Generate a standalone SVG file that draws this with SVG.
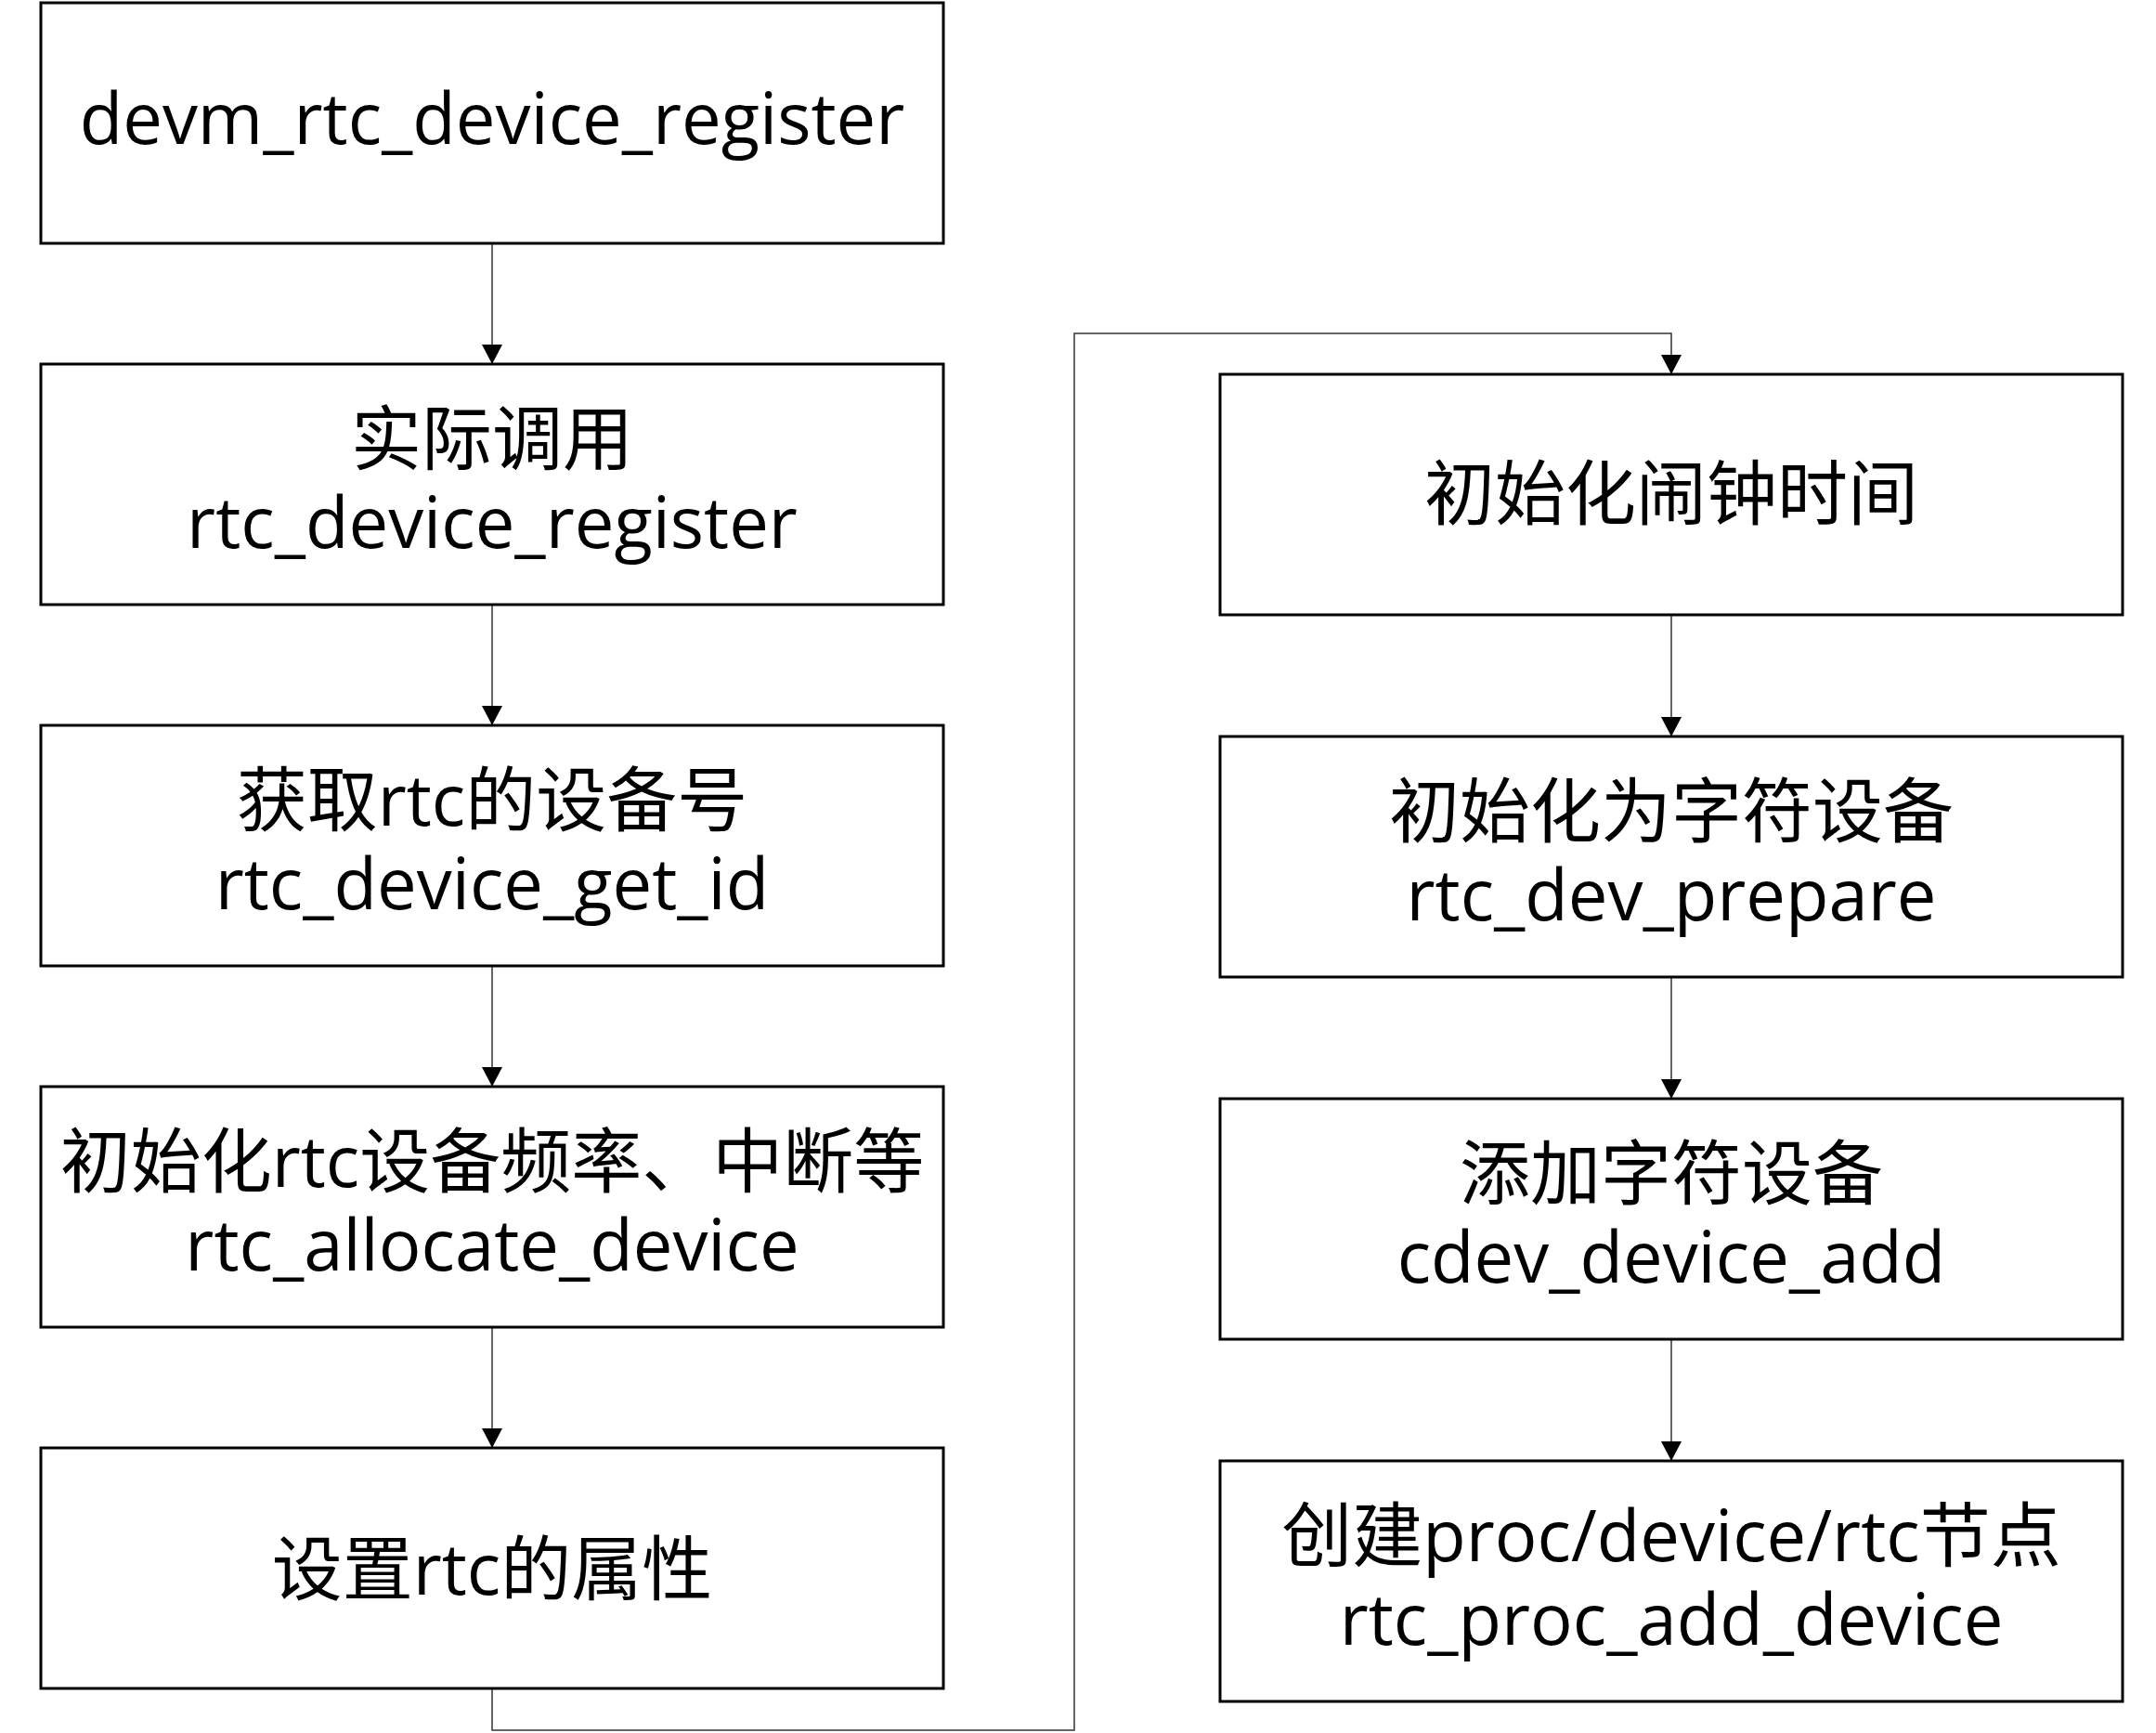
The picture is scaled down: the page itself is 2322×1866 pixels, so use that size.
<svg xmlns="http://www.w3.org/2000/svg" width="2322" height="1866" viewBox="0 0 2322 1866">
<style>
.box{fill:#fff;stroke:#000;stroke-width:3}
.t{font-family:"Open Sans","Noto Sans CJK SC",sans-serif;font-size:76px;fill:#000;text-anchor:middle}
.c{fill:none;stroke:#333;stroke-width:1.5}
</style>
<defs>
<marker id="arr" markerUnits="userSpaceOnUse" markerWidth="22" markerHeight="22" refX="21" refY="11" orient="auto" viewBox="0 0 22 22">
<path d="M0,0 L21,11 L0,22 z" fill="#000"/>
</marker>
</defs>
<g id="connectors">
<line class="c" x1="530" y1="262" x2="530" y2="392" marker-end="url(#arr)"/>
<line class="c" x1="530" y1="651" x2="530" y2="781" marker-end="url(#arr)"/>
<line class="c" x1="530" y1="1040" x2="530" y2="1170" marker-end="url(#arr)"/>
<line class="c" x1="530" y1="1429" x2="530" y2="1559" marker-end="url(#arr)"/>
<path class="c" d="M530,1818 L530,1863 L1157,1863 L1157,359 L1800,359 L1800,403" marker-end="url(#arr)"/>
<line class="c" x1="1800" y1="662" x2="1800" y2="793" marker-end="url(#arr)"/>
<line class="c" x1="1800" y1="1052" x2="1800" y2="1183" marker-end="url(#arr)"/>
<line class="c" x1="1800" y1="1442" x2="1800" y2="1573" marker-end="url(#arr)"/>
</g>
<g id="n1"><rect class="box" x="44" y="3" width="972" height="259"/><text class="t" x="530" y="155">devm_rtc_device_register</text></g>
<g id="n2"><rect class="box" x="44" y="392" width="972" height="259"/><text class="t"><tspan x="530" y="500">实际调用</tspan><tspan x="530" y="590">rtc_device_register</tspan></text></g>
<g id="n3"><rect class="box" x="44" y="781" width="972" height="259"/><text class="t"><tspan x="530" y="889">获取rtc的设备号</tspan><tspan x="530" y="979">rtc_device_get_id</tspan></text></g>
<g id="n4"><rect class="box" x="44" y="1170" width="972" height="259"/><text class="t"><tspan x="530" y="1278">初始化rtc设备频率、中断等</tspan><tspan x="530" y="1368">rtc_allocate_device</tspan></text></g>
<g id="n5"><rect class="box" x="44" y="1559" width="972" height="259"/><text class="t" x="530" y="1717">设置rtc的属性</text></g>
<g id="n6"><rect class="box" x="1314" y="403" width="972" height="259"/><text class="t" x="1800" y="559">初始化闹钟时间</text></g>
<g id="n7"><rect class="box" x="1314" y="793" width="972" height="259"/><text class="t"><tspan x="1800" y="901">初始化为字符设备</tspan><tspan x="1800" y="991">rtc_dev_prepare</tspan></text></g>
<g id="n8"><rect class="box" x="1314" y="1183" width="972" height="259"/><text class="t"><tspan x="1800" y="1291">添加字符设备</tspan><tspan x="1800" y="1381">cdev_device_add</tspan></text></g>
<g id="n9"><rect class="box" x="1314" y="1573" width="972" height="259"/><text class="t"><tspan x="1800" y="1681">创建proc/device/rtc节点</tspan><tspan x="1800" y="1771">rtc_proc_add_device</tspan></text></g>
</svg>
